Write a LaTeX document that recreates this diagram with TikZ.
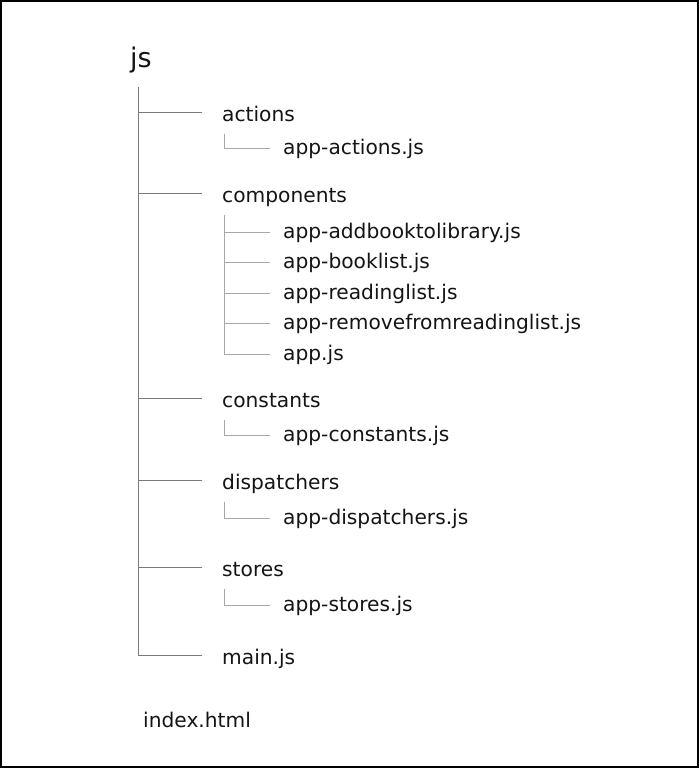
\documentclass[tikz,border=0pt]{standalone}
\usepackage{fontspec}
\setmainfont{DejaVu Sans}
\usetikzlibrary{calc}
\definecolor{ink}{HTML}{141414}
\definecolor{trunkgray}{HTML}{7A7A7A}
\definecolor{leafgray}{HTML}{A8A8A8}
\tikzset{dirname/.style={anchor=base west,inner sep=0pt,text=ink,font=\fontsize{20.2}{23}\selectfont},filename/.style={dirname},rootname/.style={dirname,font=\fontsize{27}{31}\selectfont},trunk/.style={draw=trunkgray,line width=1pt},leaf/.style={draw=leafgray,line width=1pt}}

\begin{document}
\begin{tikzpicture}[x=1pt,y=-1pt]
\useasboundingbox (0,0) rectangle (699,768);
\draw[line width=2pt] (1,1) rectangle (698,767);
\node[rootname] (js) at (130,67) {js};
\node[dirname] (actions) at (222,121) {actions};
\node[filename] (actionsjs) at (283,154) {app-actions.js};
\node[dirname] (components) at (222,202) {components};
\node[filename] (addbook) at (283,238) {app-addbooktolibrary.js};
\node[filename] (booklist) at (283,268) {app-booklist.js};
\node[filename] (readinglist) at (283,299) {app-readinglist.js};
\node[filename] (removefrom) at (283,329) {app-removefromreadinglist.js};
\node[filename] (appjs) at (283,360) {app.js};
\node[dirname] (constants) at (222,407) {constants};
\node[filename] (constantsjs) at (283,441) {app-constants.js};
\node[dirname] (dispatchers) at (222,489) {dispatchers};
\node[filename] (dispatchersjs) at (283,524) {app-dispatchers.js};
\node[dirname] (stores) at (222,576) {stores};
\node[filename] (storesjs) at (283,611) {app-stores.js};
\node[dirname] (mainjs) at (222,664) {main.js};
\node[dirname] (index) at (143,727) {index.html};
% trunk under js
\coordinate (top) at ($(js.base west)+(8,20)$);
\coordinate (mainjs-tip) at ($(mainjs.base west)+(-20,-9)$);
\draw[trunk] (top) |- (mainjs-tip);
\foreach \d in {actions,components,constants,dispatchers,stores}{
  \coordinate (\d-tip) at ($(\d.base west)+(-20,-9)$);
  \draw[trunk] (\d-tip) -- (\d-tip-|top);}
% one file folders
\foreach \d/\f in {actions/actionsjs,constants/constantsjs,dispatchers/dispatchersjs,stores/storesjs}
  \draw[leaf] ($(\d.base west)+(2,13)$) |- ($(\f.base west)+(-13,-6)$);
% components
\coordinate (cstem) at ($(components.base west)+(2,13)$);
\draw[leaf] (cstem) |- ($(appjs.base west)+(-13,-6)$);
\foreach \f in {addbook,booklist,readinglist,removefrom}{
  \coordinate (\f-tip) at ($(\f.base west)+(-13,-6)$);
  \draw[leaf] (\f-tip) -- (\f-tip-|cstem);}
\end{tikzpicture}
\end{document}
